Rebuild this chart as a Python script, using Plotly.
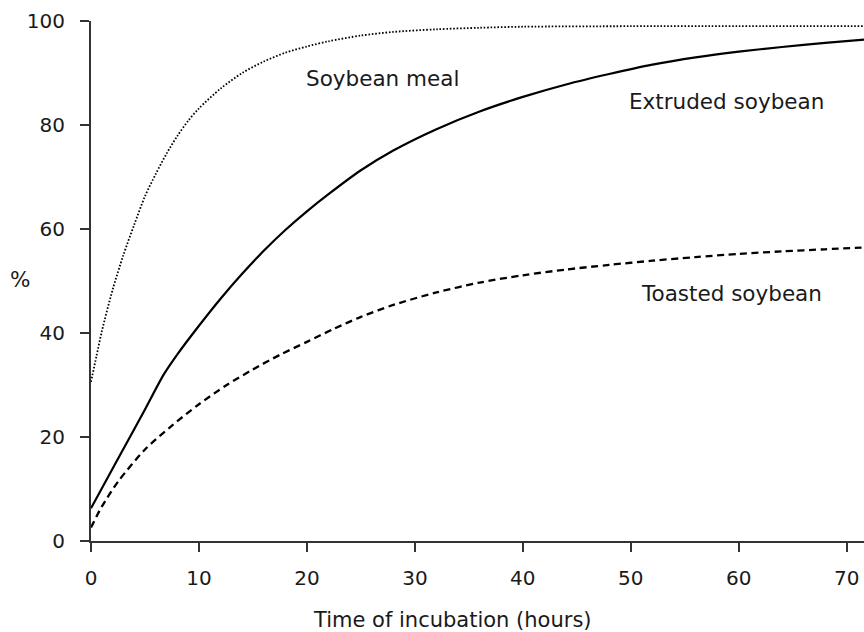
import plotly.graph_objects as go

# Soybean meal (dotted)
sbm_t = [0, 0.5, 1, 2, 3, 4, 5, 6, 7, 8, 9, 10, 12, 14, 16, 18, 20, 22, 25, 28, 32, 36, 40, 50, 60, 72]
sbm_y = [30.6, 35.5, 40.3, 48.3, 55.0, 60.8, 66.3, 70.6, 74.5, 77.9, 80.8, 83.2, 87.0, 90.0, 92.2, 93.9, 95.1, 96.1, 97.2, 97.9, 98.4, 98.7, 98.9, 99.0, 99.0, 99.0]

# Extruded soybean (solid)
ext_t = [0, 2.5, 5, 6.7, 8, 10, 12, 14, 16, 18, 20, 22, 25, 28, 32, 36, 40, 44, 48, 52, 56, 60, 64, 68, 72]
ext_y = [6.3, 15.8, 25.3, 31.9, 35.9, 41.4, 46.6, 51.4, 55.8, 59.8, 63.4, 66.7, 71.3, 75.1, 79.2, 82.6, 85.4, 87.8, 89.8, 91.6, 93.0, 94.1, 95.0, 95.8, 96.5]

# Toasted soybean (dashed)
toast_t = [0, 1, 2.5, 5, 7.5, 10, 12.5, 15, 17.5, 20, 22.5, 25, 28, 32, 36, 40, 44, 48, 52, 56, 60, 64, 68, 72]
toast_y = [2.6, 6.6, 11.4, 17.6, 22.2, 26.3, 29.9, 33.0, 35.8, 38.3, 40.8, 43.1, 45.4, 47.8, 49.7, 51.1, 52.2, 53.1, 53.9, 54.6, 55.2, 55.7, 56.1, 56.5]

x_ticks = [0, 10, 20, 30, 40, 50, 60, 70]
y_ticks = [0, 20, 40, 60, 80, 100]

labels = ["Soybean meal", "Extruded soybean", "Toasted soybean"]
label_x = [27.0, 58.9, 59.3]
label_y = [89.0, 84.5, 47.6]

FONT = "DejaVu Sans"
INK = "#1a1a1a"
TXT = 21.5

fig = go.Figure()
fig.add_trace(go.Scatter(x=sbm_t, y=sbm_y, mode="lines",
                         line=dict(color="black", width=1.8, dash="1.6px,1.8px", shape="spline", smoothing=0.8),
                         showlegend=False))
fig.add_trace(go.Scatter(x=ext_t, y=ext_y, mode="lines",
                         line=dict(color="black", width=2.2, shape="spline", smoothing=0.6),
                         showlegend=False))
fig.add_trace(go.Scatter(x=toast_t, y=toast_y, mode="lines",
                         line=dict(color="black", width=2.3, dash="7px,4.5px", shape="spline", smoothing=0.8),
                         showlegend=False))

for txt, lx, ly in zip(labels, label_x, label_y):
    fig.add_annotation(x=lx, y=ly, xref="x", yref="y", text=txt, showarrow=False,
                       font=dict(family=FONT, size=TXT, color=INK), xanchor="center", yanchor="middle")

fig.add_annotation(x=-0.092, y=50.2, xref="paper", yref="y", text="%", showarrow=False,
                   font=dict(family=FONT, size=TXT, color=INK), xanchor="center", yanchor="middle")
fig.add_annotation(x=33.5, y=-0.151, xref="x", yref="paper", text="Time of incubation (hours)",
                   showarrow=False, font=dict(family=FONT, size=21, color=INK),
                   xanchor="center", yanchor="middle", borderpad=0)

axis_style = dict(ticks="outside", ticklen=9, tickwidth=1.5, tickcolor="#333",
                  showline=True, linecolor="#333", linewidth=2,
                  showgrid=False, zeroline=False,
                  tickfont=dict(family=FONT, size=20, color=INK))

fig.update_layout(
    width=864, height=632,
    margin=dict(l=91, r=0, t=21, b=91),
    paper_bgcolor="white", plot_bgcolor="white",
    font=dict(family=FONT, size=20, color=INK),
    xaxis=dict(range=[0, 71.6], tickvals=x_ticks, ticklabelstandoff=9, **axis_style),
    yaxis=dict(range=[0, 100], tickvals=y_ticks, ticklabelstandoff=11, **axis_style),
)

fig.write_html("out.html")
